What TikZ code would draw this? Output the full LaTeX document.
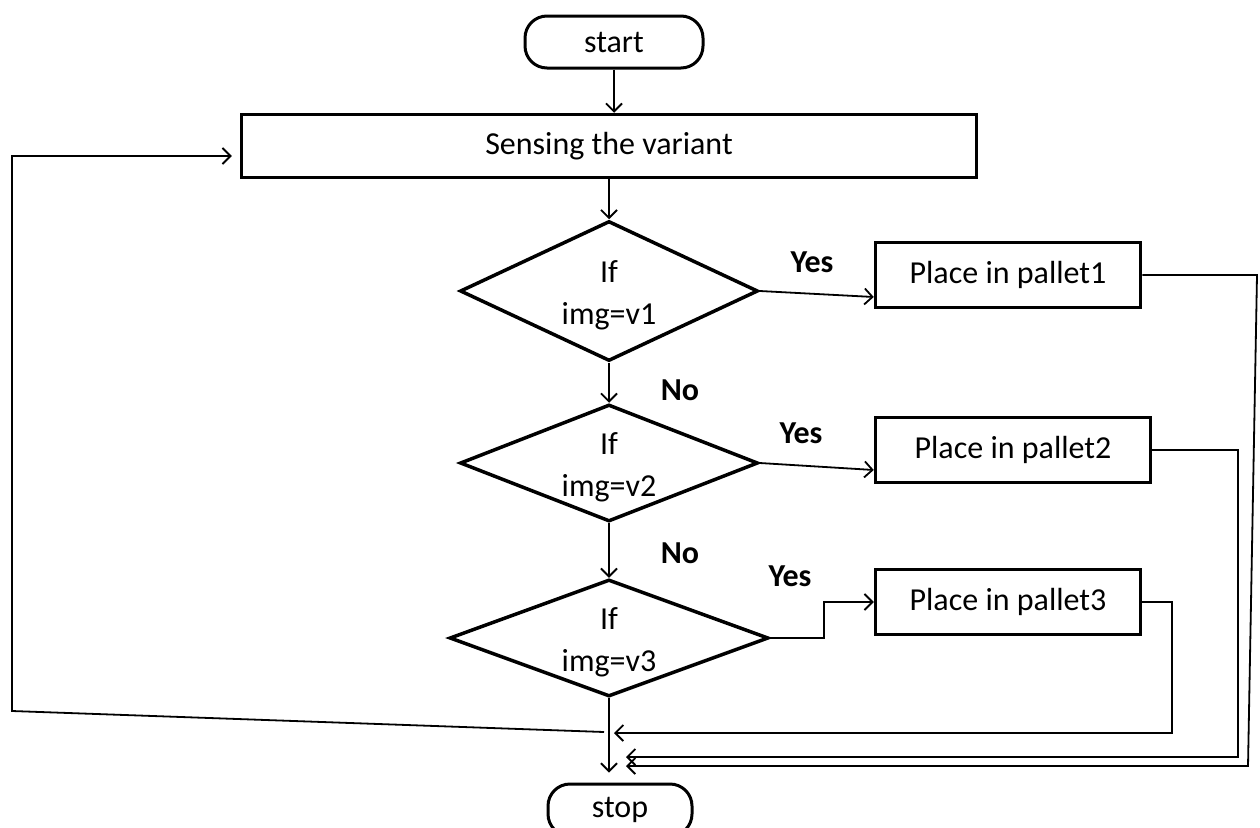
\documentclass[tikz,border=0pt]{standalone}
\usepackage{fontspec}
\setmainfont{Carlito}
\usetikzlibrary{shapes.geometric,arrows.meta}
\begin{document}
\begin{tikzpicture}[x=1pt,y=-1pt,
  every node/.style={font=\fontsize{32}{42}\selectfont},
  box/.style={draw,line width=3.5pt,minimum height=65pt,inner sep=0pt},
  term/.style={draw,line width=3pt,rounded corners=22pt,minimum height=52pt,inner sep=0pt},
  dec/.style={draw,diamond,line width=3.5pt,inner sep=0pt},
  dtext/.style={label={[align=center,yshift=-4pt]center:#1}},
  lbl/.style={font=\fontsize{32}{38}\selectfont\bfseries},
  arr/.style={line width=1.8pt,-{Straight Barb[length=8pt,width=16pt]}},
  ln/.style={line width=1.8pt}]
\useasboundingbox (0,0) rectangle (1260,827);
% nodes
\node[term,minimum width=178pt] (start) at (614,42) {start};
\node[box,minimum width=735pt,minimum height=63pt] (sense) at (609,146) {Sensing the variant};
\node[dec,minimum width=298pt,minimum height=140pt,dtext={If\\img=v1}] (d1) at (609,291) {};
\node[dec,minimum width=298pt,minimum height=117pt,dtext={If\\img=v2}] (d2) at (609,463) {};
\node[dec,minimum width=319pt,minimum height=117pt,dtext={If\\img=v3}] (d3) at (609,638) {};
\node[box,minimum width=265pt] (b1) at (1008,275) {Place in pallet1};
\node[box,minimum width=275pt] (b2) at (1013,450) {Place in pallet2};
\node[box,minimum width=265pt] (b3) at (1008,602) {Place in pallet3};
\node[term,minimum width=144pt] (stop) at (620,810) {stop};
% labels
\node[lbl] (y1) at (812,262) {Yes};
\node[lbl] (y2) at (801,433) {Yes};
\node[lbl] (y3) at (790,576) {Yes};
\node[lbl] (n1) at (680,390) {No};
\node[lbl] (n2) at (680,553) {No};
% coordinates
\coordinate (r3) at (614,733);
\coordinate (r2) at (626,757);
\coordinate (r1) at (626,766);
\coordinate (j) at (604,732);
% connectors
\draw[arr] (start.south) -- (start.south |- sense.north);
\draw[arr] (sense) -- (d1);
\draw[arr] (d1) -- (d2);
\draw[arr] (d2) -- (d3);
\draw[arr,shorten >=10pt] (d3.south) -- (d3.south |- stop.north);
\draw[arr] (d1.east) -- ([yshift=-22pt]b1.west);
\draw[arr] (d2.east) -- ([yshift=-20pt]b2.west);
\draw[arr] (d3.east) -- ++(54,0) |- (b3.west);
\draw[arr] (b3.east) -| (1172,733) -- (r3);
\draw[arr] (b2.east) -| (1238,757) -- (r2);
\draw[arr] (b1.east) -- (1257,275) -- (1248,766) -- (r1);
\draw[arr,shorten >=8pt] (j) -- (12,711) -- (12,156) -- ([yshift=-10pt]sense.west);
\end{tikzpicture}
\end{document}
